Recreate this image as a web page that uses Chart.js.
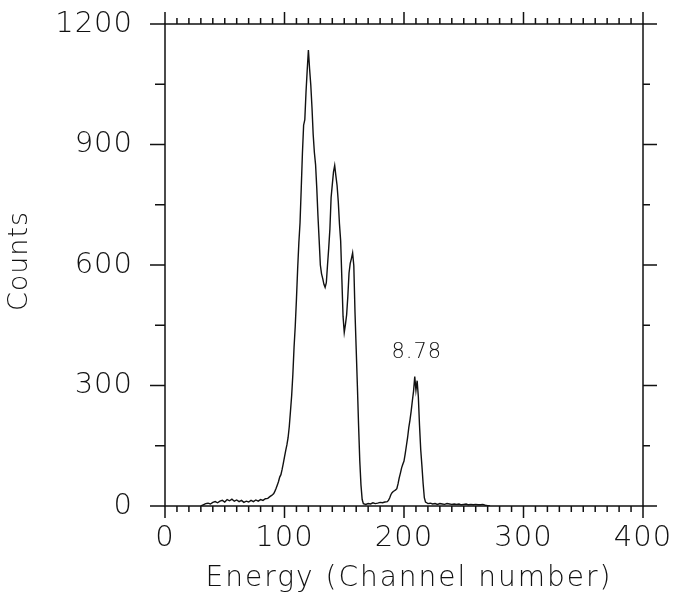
<!DOCTYPE html>
<html>
<head>
<meta charset="utf-8">
<title>Energy spectrum</title>
<script src="https://cdn.jsdelivr.net/npm/chart.js@4.4.1/dist/chart.umd.min.js"></script>
<style>
  html, body { margin: 0; padding: 0; background: #ffffff; }
  #wrap { width: 674px; height: 598px; }
</style>
</head>
<body>
<div id="wrap"><canvas id="spectrum" width="674" height="598"></canvas></div>
<script>
// Spectrum: channel number vs counts
const channels = [
  30, 32, 34, 36, 38, 40, 42, 44, 46, 48, 50, 52, 54, 56, 58, 60, 62, 64, 66, 68,
  70, 72, 74, 76, 78, 80, 82, 84, 86, 88, 89, 90, 91, 92, 93, 94, 95, 96, 97, 98,
  99, 100, 101, 102, 103, 104, 105, 106, 107, 108, 109, 110, 111, 112, 113, 114, 115, 116, 117, 118,
  119, 120, 121, 122, 123, 124, 125, 126, 127, 128, 129, 130, 131, 132, 133, 134, 135, 136, 137, 138,
  139, 140, 141, 142, 143, 144, 145, 146, 147, 148, 149, 150, 151, 152, 153, 154, 155, 156, 157, 158,
  159, 160, 161, 162, 163, 164, 165, 166, 168, 170, 172, 174, 176, 178, 180, 182, 184, 186, 187, 188,
  189, 190, 191, 192, 193, 194, 195, 196, 197, 198, 199, 200, 201, 202, 203, 204, 205, 206, 207, 208,
  209, 210, 211, 212, 213, 214, 215, 216, 217, 218, 219, 220, 222, 224, 226, 228, 230, 232, 234, 236,
  238, 240, 242, 244, 246, 248, 250, 252, 254, 256, 258, 260, 262, 264, 266, 268, 270, 272
];
const counts = [
  0, 3, 6, 7, 5, 9, 11, 8, 12, 14, 10, 16, 13, 17, 12, 15, 11, 14, 9, 12,
  10, 14, 11, 15, 12, 16, 14, 18, 19, 24, 26, 28, 31, 37, 44, 52, 61, 72, 78, 91,
  106, 122, 138, 152, 170, 198, 236, 275, 328, 395, 448, 515, 590, 655, 705, 790, 878, 948, 962, 1030,
  1085, 1135, 1088, 1048, 992, 925, 880, 850, 792, 722, 662, 600, 578, 566, 552, 544, 556, 600, 642, 690,
  768, 800, 832, 848, 822, 798, 758, 702, 660, 565, 472, 432, 452, 476, 522, 580, 604, 616, 630, 598,
  482, 390, 298, 200, 112, 52, 16, 6, 4, 6, 5, 8, 6, 7, 9, 8, 10, 11, 14, 20,
  28, 33, 36, 38, 40, 43, 55, 70, 82, 95, 104, 112, 130, 150, 170, 195, 214, 236, 262, 286,
  322, 288, 312, 272, 200, 140, 100, 56, 21, 10, 8, 6, 7, 5, 6, 4, 6, 5, 4, 6,
  5, 4, 5, 4, 5, 3, 4, 5, 3, 4, 3, 4, 3, 3, 4, 2, 1, 0
];

// Axis ranges and tick spacing
const xRange = [0, 400];
const yRange = [0, 1200];
const xLabelStep = 100;
const xMinorStep = 10;
const yLabelStep = 300;
const yMinorStep = 150;

// Peak annotation: text and the channel it sits over
const peakLabelText = '8.78';
const peakLabelChannel = 209;

const INK = '#111111';
const FONT = "'DejaVu Sans', sans-serif";
const TICK_SPACING = '1px';
const TITLE_SPACING = { x: '2px', y: '1px' };
const TITLE_SHIFT = { x: [5, 0], y: [0, -4] };

// Boxed frame with outward tick marks on all four sides
const frameTicks = {
  id: 'frameTicks',
  afterDatasetsDraw(chart) {
    const { ctx, chartArea: a, scales: { x, y } } = chart;
    ctx.save();
    ctx.strokeStyle = INK;
    ctx.lineWidth = 1.5;
    ctx.strokeRect(a.left, a.top, a.right - a.left, a.bottom - a.top);
    ctx.beginPath();
    for (let v = xRange[0]; v <= xRange[1]; v += xMinorStep) {
      const px = x.getPixelForValue(v);
      const major = v % xLabelStep === 0;
      const len = major ? 12 : 6;
      ctx.moveTo(px, a.bottom); ctx.lineTo(px, a.bottom + len);
      ctx.moveTo(px, a.top); ctx.lineTo(px, a.top - len);
    }
    for (let v = yRange[0]; v <= yRange[1]; v += yMinorStep) {
      const py = y.getPixelForValue(v);
      const major = v % yLabelStep === 0;
      ctx.moveTo(a.left - (major ? 15 : 10), py); ctx.lineTo(a.left, py);
      ctx.moveTo(a.right, py); ctx.lineTo(a.right + (major ? 14 : 7), py);
    }
    ctx.stroke();
    ctx.restore();
  }
};

// Text label above the right-hand peak
const peakLabel = {
  id: 'peakLabel',
  afterDatasetsDraw(chart) {
    const { ctx, scales: { x, y } } = chart;
    const i = channels.indexOf(peakLabelChannel);
    const px = x.getPixelForValue(channels[i]);
    const py = y.getPixelForValue(counts[i]);
    ctx.save();
    ctx.letterSpacing = '1px';
    ctx.font = `200 21px ${FONT}`;
    ctx.fillStyle = INK;
    ctx.textAlign = 'center';
    ctx.textBaseline = 'bottom';
    ctx.fillText(peakLabelText, px + 2, py - 14);
    ctx.restore();
  }
};

// Letter spacing for tick labels and axis titles
const spacedText = {
  id: 'spacedText',
  beforeDraw(chart) {
    chart.ctx.letterSpacing = TICK_SPACING;
    for (const id of ['x', 'y']) {
      const scale = chart.scales[id];
      if (scale._spacedTitle) continue;
      const drawTitle = scale.drawTitle.bind(scale);
      scale.drawTitle = function () {
        const c = this.ctx;
        c.save();
        c.letterSpacing = TITLE_SPACING[id];
        c.translate(TITLE_SHIFT[id][0], TITLE_SHIFT[id][1]);
        drawTitle();
        c.restore();
      };
      scale._spacedTitle = true;
    }
  }
};

const plain = v => String(v);

new Chart(document.getElementById('spectrum'), {
  type: 'line',
  data: {
    datasets: [{
      data: channels.map((c, i) => ({ x: c, y: counts[i] })),
      borderColor: INK,
      borderWidth: 1.4,
      pointRadius: 0,
      tension: 0,
      fill: false
    }]
  },
  options: {
    responsive: false,
    animation: false,
    events: [],
    layout: { padding: { top: 24, right: 31, left: 0, bottom: 0 } },
    plugins: { legend: { display: false }, tooltip: { enabled: false } },
    scales: {
      x: {
        type: 'linear',
        min: xRange[0], max: xRange[1],
        grid: { display: false, drawTicks: false },
        border: { display: false },
        ticks: {
          stepSize: xLabelStep,
          padding: 15,
          color: INK,
          callback: plain,
          font: { family: FONT, size: 29, weight: 200 },
          maxRotation: 0
        },
        title: {
          display: true,
          text: 'Energy (Channel number)',
          color: INK,
          font: { family: FONT, size: 28, weight: 200 },
          padding: { top: 0, bottom: 2 }
        },
        afterFit(scale) {
          scale.height = 92;
          scale.paddingLeft = 0;
          scale.paddingRight = 0;
        }
      },
      y: {
        min: yRange[0], max: yRange[1],
        grid: { display: false, drawTicks: false },
        border: { display: false },
        ticks: {
          stepSize: yLabelStep,
          padding: 32,
          color: INK,
          callback: plain,
          font: { family: FONT, size: 29, weight: 200 }
        },
        title: {
          display: true,
          text: 'Counts',
          color: INK,
          font: { family: FONT, size: 27, weight: 200 },
          padding: { top: 4, bottom: 0 }
        },
        afterFit(scale) {
          scale.width = 165;
          scale.paddingTop = 0;
          scale.paddingBottom = 0;
        }
      }
    }
  },
  plugins: [spacedText, frameTicks, peakLabel]
});
</script>
</body>
</html>
